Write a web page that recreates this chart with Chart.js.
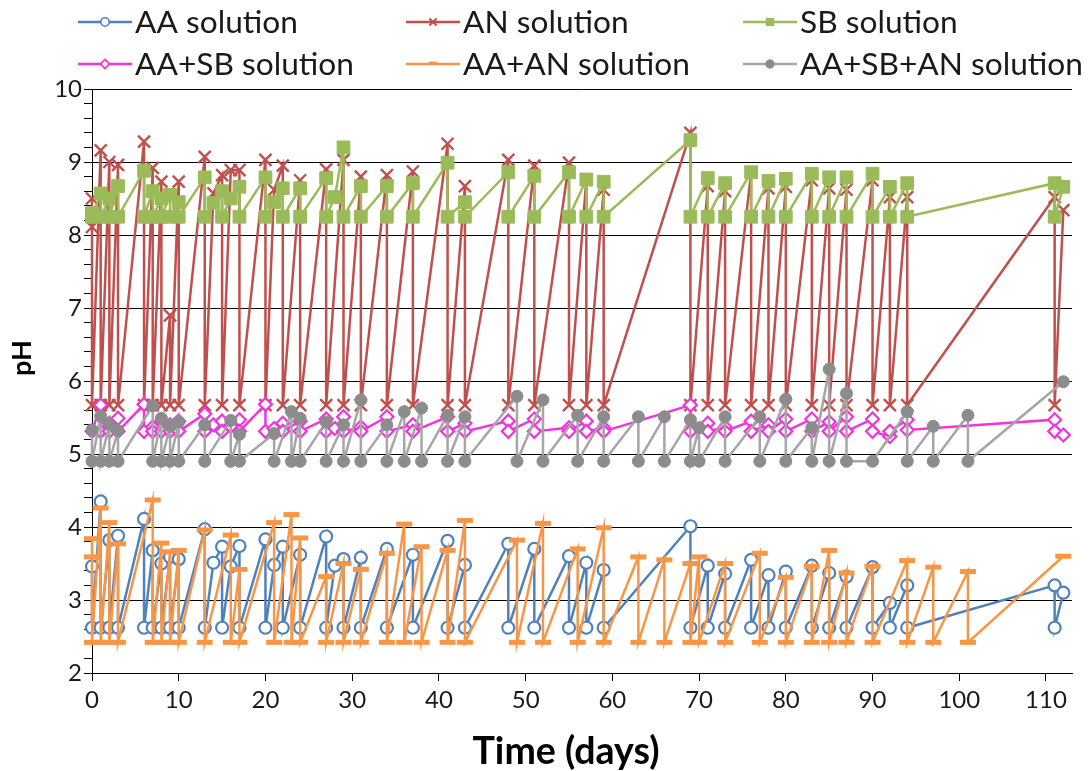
<!DOCTYPE html>
<html><head><meta charset="utf-8">
<script src="https://cdn.jsdelivr.net/npm/chart.js@4/dist/chart.umd.min.js"></script>
<style>html,body{margin:0;padding:0;background:#fff;}#wrap{width:1089px;height:771px;position:relative;}</style>
</head><body><div id="wrap"><canvas id="c" width="1089" height="771"></canvas></div>
<script>
// ---- data (day, pH) ----
const xTickValues = [0,10,20,30,40,50,60,70,80,90,100,110];
const yTickValues = [2,3,4,5,6,7,8,9,10];
const seriesNames = ["AA solution","AN solution","SB solution","AA+SB solution","AA+AN solution","AA+SB+AN solution"];

const AA = [[0,3.46],[0,2.62],[1,4.35],[1,2.62],[2,3.82],[2,2.62],[3,3.88],[3,2.62],[6,4.11],[6,2.62],[7,3.68],[7,2.62],[8,3.5],[8,2.62],[9,3.59],[9,2.62],[10,3.56],[10,2.62],[13,3.97],[13,2.62],[14,3.51],[15,3.73],[15,2.62],[16,3.46],[17,3.74],[17,2.62],[20,3.83],[20,2.62],[21,3.48],[22,3.73],[22,2.62],[24,3.62],[24,2.62],[27,3.87],[27,2.62],[28,3.47],[29,3.56],[29,2.62],[31,3.58],[31,2.62],[34,3.70],[34,2.62],[37,3.62],[37,2.62],[41,3.81],[41,2.62],[43,3.48],[43,2.62],[48,3.77],[48,2.62],[51,3.70],[51,2.62],[55,3.60],[55,2.62],[57,3.51],[57,2.62],[59,3.41],[59,2.62],[69,4.01],[69,2.62],[71,3.47],[71,2.62],[73,3.36],[73,2.62],[76,3.55],[76,2.62],[78,3.34],[78,2.62],[80,3.39],[80,2.62],[83,3.47],[83,2.62],[85,3.37],[85,2.62],[87,3.32],[87,2.62],[90,3.45],[90,2.62],[92,2.96],[92,2.62],[94,3.20],[94,2.62],[111,3.20],[111,2.62],[112,3.10]];

const AN = [[0,8.11],[0,8.5],[0,5.67],[1,9.16],[1,5.67],[2,9.0],[2,5.67],[3,8.96],[3,5.67],[6,9.28],[6,5.67],[7,8.92],[7,5.67],[8,8.73],[8,5.67],[9,6.9],[9,5.67],[10,8.73],[10,5.67],[13,9.07],[13,5.67],[14,8.57],[15,8.82],[15,5.67],[16,8.89],[17,8.89],[17,5.67],[20,9.03],[20,5.67],[21,8.62],[22,8.95],[22,5.67],[24,8.75],[24,5.67],[27,8.9],[27,5.67],[29,9.03],[29,5.67],[31,8.8],[31,5.67],[34,8.82],[34,5.67],[37,8.87],[37,5.67],[41,9.25],[41,5.67],[43,8.67],[43,5.67],[48,9.03],[48,5.67],[51,8.95],[51,5.67],[55,8.99],[55,5.67],[57,8.76],[57,5.67],[59,8.62],[59,5.67],[69,9.4],[69,5.67],[71,8.67],[71,5.67],[73,8.6],[73,5.67],[76,8.86],[76,5.67],[78,8.64],[78,5.67],[80,8.66],[80,5.67],[83,8.75],[83,5.67],[85,8.64],[85,5.67],[87,8.62],[87,5.67],[90,8.75],[90,5.67],[92,8.52],[92,5.67],[94,8.52],[94,5.67],[111,8.52],[111,5.67],[112,8.34]];

const SB = [[0,8.3],[0,8.25],[1,8.57],[1,8.25],[2,8.5],[2,8.25],[3,8.67],[3,8.25],[6,8.88],[6,8.25],[7,8.6],[7,8.25],[8,8.5],[8,8.25],[9,8.55],[9,8.25],[10,8.45],[10,8.25],[13,8.79],[13,8.25],[14,8.44],[15,8.6],[15,8.25],[16,8.5],[17,8.66],[17,8.25],[20,8.79],[20,8.25],[21,8.45],[22,8.64],[22,8.25],[24,8.64],[24,8.25],[27,8.78],[27,8.25],[28,8.52],[29,9.2],[29,8.25],[31,8.67],[31,8.25],[34,8.67],[34,8.25],[37,8.71],[37,8.25],[41,8.99],[41,8.25],[43,8.45],[43,8.25],[48,8.86],[48,8.25],[51,8.81],[51,8.25],[55,8.86],[55,8.25],[57,8.76],[57,8.25],[59,8.73],[59,8.25],[69,9.3],[69,8.25],[71,8.78],[71,8.25],[73,8.71],[73,8.25],[76,8.86],[76,8.25],[78,8.74],[78,8.25],[80,8.77],[80,8.25],[83,8.84],[83,8.25],[85,8.79],[85,8.25],[87,8.79],[87,8.25],[90,8.84],[90,8.25],[92,8.66],[92,8.25],[94,8.71],[94,8.25],[111,8.71],[111,8.25],[112,8.66]];

const AA_SB = [[0,5.31],[1,5.67],[1,5.31],[2,5.42],[2,5.31],[3,5.49],[3,5.31],[6,5.68],[6,5.31],[7,5.37],[7,5.31],[8,5.45],[8,5.31],[9,5.4],[9,5.31],[10,5.45],[10,5.31],[13,5.55],[13,5.31],[14,5.4],[15,5.45],[15,5.31],[16,5.38],[17,5.47],[17,5.31],[20,5.68],[20,5.31],[21,5.35],[22,5.42],[22,5.31],[24,5.45],[24,5.31],[27,5.48],[27,5.31],[28,5.35],[29,5.51],[29,5.31],[31,5.37],[31,5.31],[34,5.51],[34,5.31],[37,5.4],[37,5.31],[41,5.51],[41,5.31],[43,5.42],[43,5.31],[48,5.45],[48,5.31],[51,5.48],[51,5.31],[55,5.36],[55,5.31],[57,5.45],[57,5.31],[59,5.36],[59,5.31],[69,5.67],[69,5.31],[71,5.42],[71,5.31],[73,5.37],[73,5.31],[76,5.45],[76,5.31],[78,5.4],[78,5.31],[80,5.48],[80,5.31],[83,5.48],[83,5.31],[85,5.44],[85,5.31],[87,5.51],[87,5.31],[90,5.48],[90,5.31],[92,5.24],[92,5.31],[94,5.47],[94,5.33],[111,5.47],[111,5.31],[112,5.26]];

const AA_AN = [[0,3.59],[0,3.84],[0,2.42],[1,4.26],[1,2.42],[2,4.06],[2,2.42],[3,3.77],[3,2.42],[7,4.37],[7,2.42],[8,3.78],[8,2.42],[9,3.66],[9,2.42],[10,3.68],[10,2.42],[13,3.96],[13,2.42],[16,3.89],[16,2.42],[17,3.42],[17,2.42],[21,4.06],[21,2.42],[23,4.17],[23,2.42],[24,3.85],[24,2.42],[27,3.32],[27,2.42],[29,3.5],[29,2.42],[31,3.42],[31,2.42],[34,3.64],[34,2.42],[36,4.04],[36,2.42],[38,3.73],[38,2.42],[41,3.68],[41,2.42],[43,4.09],[43,2.42],[49,3.82],[49,2.42],[52,4.05],[52,2.42],[56,3.7],[56,2.42],[59,3.99],[59,2.42],[63,3.59],[63,2.42],[66,3.55],[66,2.42],[69,3.5],[69,2.42],[70,3.59],[70,2.42],[73,3.5],[73,2.42],[77,3.64],[77,2.42],[80,3.31],[80,2.42],[83,3.46],[83,2.42],[85,3.68],[85,2.42],[87,3.37],[87,2.42],[90,3.46],[90,2.42],[94,3.54],[94,2.42],[97,3.45],[97,2.42],[101,3.39],[101,2.42],[112,3.6]];

const AA_SB_AN = [[0,5.33],[0,4.9],[1,5.52],[1,4.9],[2,5.41],[2,4.9],[3,5.32],[3,4.9],[7,5.66],[7,4.9],[8,5.49],[8,4.9],[9,5.38],[9,4.9],[10,5.44],[10,4.9],[13,5.4],[13,4.9],[16,5.46],[16,4.9],[17,5.27],[17,4.9],[21,5.28],[21,4.9],[23,5.58],[23,4.9],[24,5.49],[24,4.9],[27,5.44],[27,4.9],[29,5.4],[29,4.9],[31,5.74],[31,4.9],[34,5.4],[34,4.9],[36,5.58],[36,4.9],[38,5.63],[38,4.9],[41,5.53],[41,4.9],[43,5.51],[43,4.9],[49,5.79],[49,4.9],[52,5.74],[52,4.9],[56,5.53],[56,4.9],[59,5.51],[59,4.9],[63,5.51],[63,4.9],[66,5.51],[66,4.9],[69,5.47],[69,4.9],[70,5.36],[70,4.9],[73,5.51],[73,4.9],[77,5.51],[77,4.9],[80,5.75],[80,4.9],[83,5.36],[83,4.9],[85,6.16],[85,4.9],[87,5.83],[87,4.9],[90,4.9],[94,5.58],[94,4.9],[97,5.38],[97,4.9],[101,5.53],[101,4.9],[112,5.99]];

// ---- styles ----
const FONT = "Lato, 'Open Sans', 'DejaVu Sans', sans-serif";
const styles = [
  {line:'#4F81BD', point:'#4F81BD', fill:'#ffffff', shape:'circle', r:6, bw:2.2},
  {line:'#C0504D', point:'#C0504D', fill:'#C0504D', shape:'crossRot', r:8.5, bw:2.4},
  {line:'#9BBB59', point:'#9BBB59', fill:'#9BBB59', shape:'rect', r:9, bw:1},
  {line:'#EE36DC', point:'#EE36DC', fill:'#ffffff', shape:'rectRot', r:6.5, bw:2.2},
  {line:'#F79646', point:'#F79646', fill:'#F79646', shape:'line', r:8, bw:5},
  {line:'#A6A6A6', point:'#8C8C8C', fill:'#8C8C8C', shape:'circle', r:6, bw:1}
];
const allSeries = [AA, AN, SB, AA_SB, AA_AN, AA_SB_AN];

const datasets = allSeries.map((s, i) => ({
  label: seriesNames[i],
  data: s.map(p => ({x: p[0], y: p[1]})),
  showLine: true,
  borderColor: styles[i].line,
  backgroundColor: styles[i].fill,
  borderWidth: 2.5,
  tension: 0,
  pointStyle: styles[i].shape,
  pointRadius: styles[i].r,
  pointHoverRadius: styles[i].r,
  pointBorderWidth: styles[i].bw,
  pointHoverBorderWidth: styles[i].bw,
  pointBorderColor: styles[i].point,
  pointBackgroundColor: styles[i].fill,
  clip: false,
  order: 6 - i
}));

const isInt = v => Math.abs(v - Math.round(v)) < 1e-6;

function drawMarker(ctx, st, x, y) {
  ctx.save();
  ctx.lineWidth = st.bw; ctx.strokeStyle = st.point; ctx.fillStyle = st.fill;
  ctx.beginPath();
  const r = st.r * 0.7;
  if (st.shape === 'circle') { ctx.lineWidth = Math.min(st.bw, 1.6); ctx.arc(x, y, r, 0, Math.PI*2); ctx.fill(); ctx.stroke(); }
  else if (st.shape === 'crossRot') { const d = r*0.6; ctx.lineWidth = 2; ctx.moveTo(x-d,y-d); ctx.lineTo(x+d,y+d); ctx.moveTo(x+d,y-d); ctx.lineTo(x-d,y+d); ctx.stroke(); }
  else if (st.shape === 'rect') { const d = r*0.65; ctx.rect(x-d,y-d,2*d,2*d); ctx.fill(); }
  else if (st.shape === 'rectRot') { ctx.lineWidth = 1.8; ctx.moveTo(x-r,y); ctx.lineTo(x,y-r); ctx.lineTo(x+r,y); ctx.lineTo(x,y+r); ctx.closePath(); ctx.fill(); ctx.stroke(); }
  else if (st.shape === 'line') { ctx.lineWidth = 3; ctx.moveTo(x-r*0.7,y-1); ctx.lineTo(x+r*0.7,y-1); ctx.stroke(); }
  ctx.restore();
}

function fitFont(ctx, weight, text, target) {
  let size = 20;
  ctx.font = `${weight} ${size}px ${FONT}`;
  const w = ctx.measureText(text).width;
  size = size * target / w;
  return `${weight} ${size.toFixed(2)}px ${FONT}`;
}

const decorPlugin = {
  id: 'decor',
  afterDraw(chart) {
    const ctx = chart.ctx;
    ctx.save();
    // legend
    const legFont = fitFont(ctx, 'normal', 'AA+SB+AN solution', 283);
    const cols = [135, 463, 800];
    const rows = [22, 64];
    seriesNames.forEach((name, i) => {
      const tx = cols[i % 3], ty = rows[Math.floor(i / 3)];
      const st = styles[i];
      ctx.strokeStyle = st.line; ctx.lineWidth = 2.4;
      ctx.beginPath(); ctx.moveTo(tx - 57, ty); ctx.lineTo(tx - 3, ty); ctx.stroke();
      drawMarker(ctx, st, tx - 30, ty);
      ctx.font = legFont; ctx.fillStyle = '#1a1a1a';
      ctx.textAlign = 'left'; ctx.textBaseline = 'middle';
      ctx.fillText(name, tx, ty + 1);
    });
    // axis titles
    ctx.fillStyle = '#000';
    ctx.font = fitFont(ctx, 'bold', 'Time (days)', 187);
    ctx.textAlign = 'center'; ctx.textBaseline = 'middle';
    ctx.fillText('Time (days)', 566, 752);
    ctx.save();
    ctx.translate(22, 358); ctx.rotate(-Math.PI / 2);
    ctx.font = fitFont(ctx, 'bold', 'pH', 36);
    ctx.fillText('pH', 0, 0);
    ctx.restore();
    ctx.restore();
  }
};

new Chart(document.getElementById('c'), {
  type: 'scatter',
  data: { datasets },
  options: {
    responsive: false,
    animation: false,
    devicePixelRatio: 1,
    layout: { padding: { top: 89, right: 17, left: 0, bottom: 0 } },
    plugins: { legend: { display: false }, tooltip: { enabled: false } },
    scales: {
      x: {
        type: 'linear', min: 0, max: 113,
        afterBuildTicks: s => { s.ticks = xTickValues.map(v => ({value: v})); },
        afterFit: s => { s.height = 98; },
        grid: { drawOnChartArea: false, drawTicks: true, tickLength: 8, tickColor: '#000', color: '#000' },
        border: { display: true, color: '#000', width: 1 },
        ticks: { autoSkip: false, maxRotation: 0, padding: 5, color: '#1a1a1a', font: { family: FONT, size: 24 } }
      },
      y: {
        type: 'linear', min: 2, max: 10,
        afterBuildTicks: s => {
          const t = [];
          for (let k = 0; k < yTickValues.length; k++) {
            const v = yTickValues[k];
            t.push({value: v});
            if (k < yTickValues.length - 1) for (let m = 1; m < 5; m++) t.push({value: +(v + m * 0.2).toFixed(1)});
          }
          s.ticks = t;
        },
        afterFit: s => { s.width = 92; },
        grid: {
          color: c => (c.tick && isInt(c.tick.value)) ? '#000' : 'rgba(0,0,0,0)',
          tickColor: '#000', tickLength: 8, lineWidth: 1
        },
        border: { display: true, color: '#000', width: 1 },
        ticks: { autoSkip: false, padding: 2, color: '#1a1a1a', font: { family: FONT, size: 24 },
          callback: v => isInt(v) ? String(Math.round(v)) : '' }
      }
    }
  },
  plugins: [decorPlugin]
});
</script>
</body></html>
